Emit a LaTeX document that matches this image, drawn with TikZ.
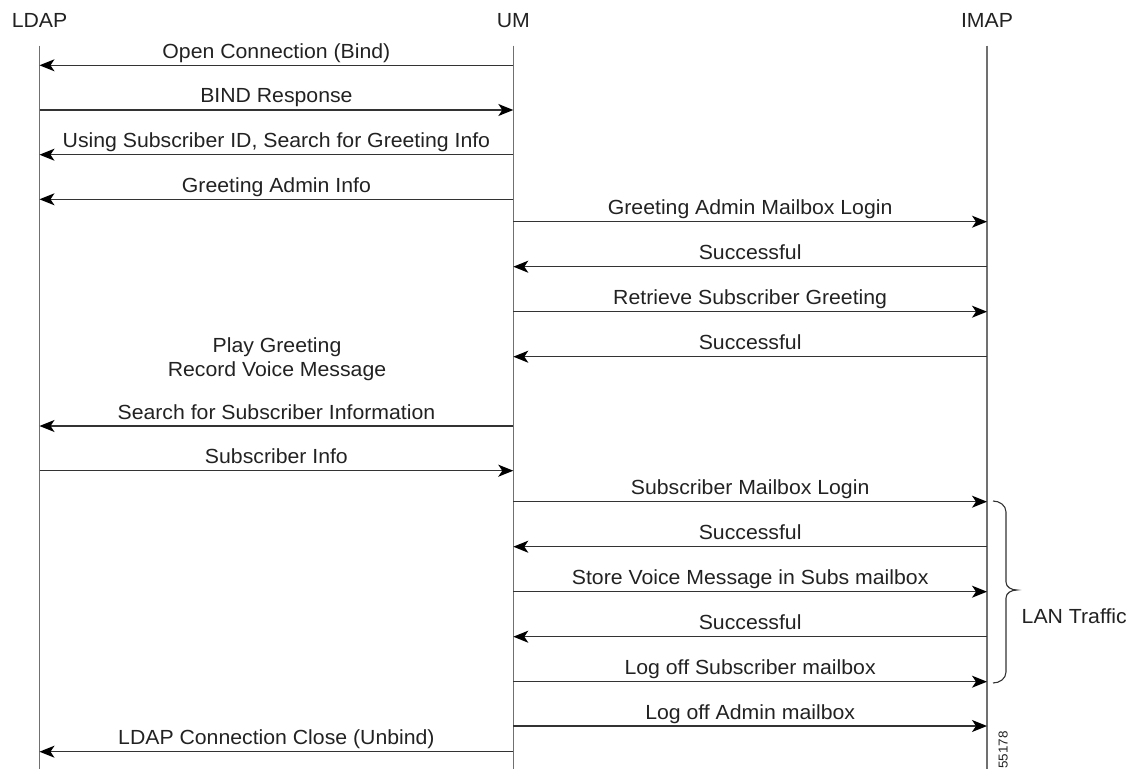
\documentclass[tikz,border=0pt]{standalone}
\usepackage{fontspec}
\setmainfont{Liberation Sans}[FakeStretch=1.04]
\usetikzlibrary{arrows.meta}
\definecolor{txt}{HTML}{222222}
\definecolor{lifec}{HTML}{707070}
\definecolor{msgc}{HTML}{333333}
\begin{document}
\begin{tikzpicture}[x=1bp,y=1bp,
  head/.style={anchor=base, text=txt, inner sep=0pt, font=\fontsize{20.5}{24}\selectfont},
  lifeline/.style={draw=lifec, line width=1.3bp},
  msg/.style={draw=msgc, line width=1.3bp, -{Stealth[length=15bp,width=12bp,inset=4bp,color=black]}},
  lbl/.style={anchor=base, yshift=7bp, text=txt, inner sep=0pt, font=\fontsize{20.5}{24}\selectfont},
  note/.style={anchor=base, text=txt, inner sep=0pt, font=\fontsize{20.5}{24}\selectfont},
  bracec/.style={draw=msgc, line width=1.1bp},
  fignum/.style={anchor=base west, rotate=90, text=txt, inner sep=0pt, font=\fontsize{13}{15}\selectfont}
]
\useasboundingbox (0,0) rectangle (1136,-769);
% headers
\node[head] (ldap) at (39.5,-27.3) {LDAP};
\node[head] (um) at (513.3,-27.3) {UM};
\node[head] (imap) at (987,-27.3) {IMAP};
% lifelines
\coordinate (ldapT) at (39.5,-45.7);
\coordinate (ldapB) at (39.5,-769);
\coordinate (umT) at (513.3,-45.7);
\coordinate (umB) at (513.3,-769);
\coordinate (imapT) at (987,-45.7);
\coordinate (imapB) at (987,-769);
\draw[lifeline] (ldapT) -- (ldapB);
\draw[lifeline] (umT) -- (umB);
\draw[lifeline] (imapT) -- (imapB);
% message levels
\coordinate (m1) at (0,-65.3);
\coordinate (m2) at (0,-110);
\coordinate (m3) at (0,-154.7);
\coordinate (m4) at (0,-199.3);
\coordinate (m5) at (0,-221.7);
\coordinate (m6) at (0,-266.7);
\coordinate (m7) at (0,-311.7);
\coordinate (m8) at (0,-356.7);
\coordinate (m9) at (0,-426);
\coordinate (m10) at (0,-470.7);
\coordinate (m11) at (0,-501.7);
\coordinate (m12) at (0,-546.7);
\coordinate (m13) at (0,-591.7);
\coordinate (m14) at (0,-636.7);
\coordinate (m15) at (0,-681.7);
\coordinate (m16) at (0,-726);
\coordinate (m17) at (0,-751.7);
% messages
\draw[msg] (um |- m1) -- node[lbl] (t1) {Open Connection (Bind)} (ldap |- m1);
\draw[msg] (ldap |- m2) -- node[lbl] (t2) {BIND Response} (um |- m2);
\draw[msg] (um |- m3) -- node[lbl] (t3) {Using Subscriber ID, Search for Greeting Info} (ldap |- m3);
\draw[msg] (um |- m4) -- node[lbl] (t4) {Greeting Admin Info} (ldap |- m4);
\draw[msg] (um |- m5) -- node[lbl] (t5) {Greeting Admin Mailbox Login} (imap |- m5);
\draw[msg] (imap |- m6) -- node[lbl] (t6) {Successful} (um |- m6);
\draw[msg] (um |- m7) -- node[lbl] (t7) {Retrieve Subscriber Greeting} (imap |- m7);
\draw[msg] (imap |- m8) -- node[lbl] (t8) {Successful} (um |- m8);
\draw[msg] (um |- m9) -- node[lbl] (t9) {Search for Subscriber Information} (ldap |- m9);
\draw[msg] (ldap |- m10) -- node[lbl] (t10) {Subscriber Info} (um |- m10);
\draw[msg] (um |- m11) -- node[lbl] (t11) {Subscriber Mailbox Login} (imap |- m11);
\draw[msg] (imap |- m12) -- node[lbl] (t12) {Successful} (um |- m12);
\draw[msg] (um |- m13) -- node[lbl] (t13) {Store Voice Message in Subs mailbox} (imap |- m13);
\draw[msg] (imap |- m14) -- node[lbl] (t14) {Successful} (um |- m14);
\draw[msg] (um |- m15) -- node[lbl] (t15) {Log off Subscriber mailbox} (imap |- m15);
\draw[msg] (um |- m16) -- node[lbl] (t16) {Log off Admin mailbox} (imap |- m16);
\draw[msg] (um |- m17) -- node[lbl] (t17) {LDAP Connection Close (Unbind)} (ldap |- m17);
% local action note
\node[note] (play) at (277,-352.5) {Play Greeting};
\node[note] (record) at (277,-376) {Record Voice Message};
% LAN traffic brace
\draw[bracec] (993,-501) to[out=0,in=90] (1006,-512) -- (1006,-582)
  to[out=-90,in=180] (1017,-590) to[out=180,in=90] (1006,-598)
  -- (1006,-672) to[out=-90,in=0] (993,-683);
\node[note, anchor=base west] (lan) at (1021.5,-623) {LAN Traffic};
% figure number
\node[fignum] (fig) at (1007.5,-769) {55178};
\end{tikzpicture}
\end{document}
